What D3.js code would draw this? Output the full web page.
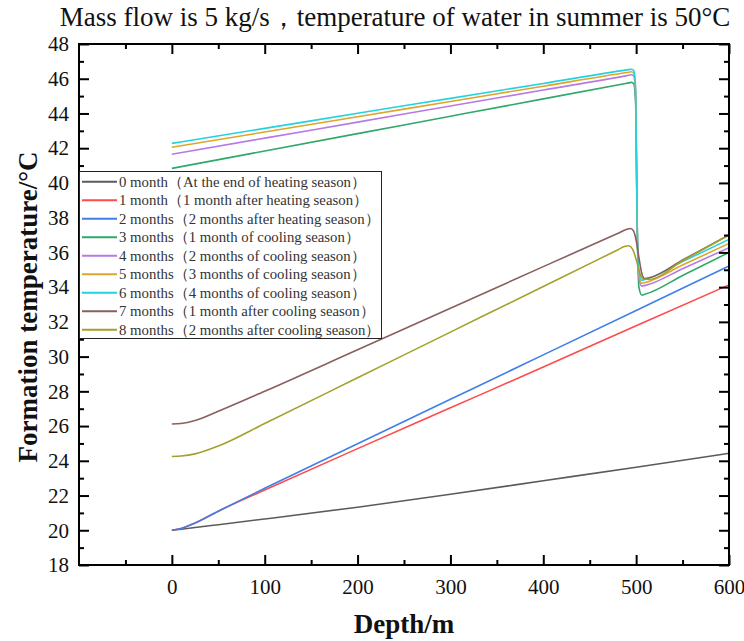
<!DOCTYPE html>
<html><head><meta charset="utf-8">
<script src="https://cdn.jsdelivr.net/npm/d3@7"></script>
<style>body{margin:0;background:#fff} svg{display:block}</style>
</head><body>
<svg id="c" width="744" height="641"></svg>
<script>
const titleText = "Mass flow is 5 kg/s，temperature of water in summer is 50°C";
const xLabel = "Depth/m";
const yLabel = "Formation temperature/°C";
const xTickValues = [-50, 0, 50, 100, 150, 200, 250, 300, 350, 400, 450, 500, 550, 600];
const xTickLabels = [0, 100, 200, 300, 400, 500, 600];
const yTickValues = d3.range(18, 49, 1);
const yTickLabels = [18, 20, 22, 24, 26, 28, 30, 32, 34, 36, 38, 40, 42, 44, 46, 48];

const seriesNames = [
  "0 month（At the end of heating season）",
  "1 month（1 month after heating season）",
  "2 months（2 months after heating season）",
  "3 months（1 month of cooling season）",
  "4 months（2 months of cooling season）",
  "5 months（3 months of cooling season）",
  "6 months（4 months of cooling season）",
  "7 months（1 month after cooling season）",
  "8 months（2 months after cooling season）"
];
const colors = ["#5b5b5b", "#ff4b4b", "#3f80e8", "#2fa86a", "#b67ae6", "#dca628", "#22d3de", "#8a5e5e", "#a3a12a"];

const depthHeating = [0, 10, 25, 50, 100, 200, 300, 400, 500, 600];
const month0 = [20.0, 20.06, 20.16, 20.32, 20.65, 21.33, 22.07, 22.85, 23.63, 24.43];
const month1 = [20.0, 20.1, 20.42, 21.1, 22.32, 24.7, 27.05, 29.4, 31.78, 34.13];
const month2 = [20.0, 20.1, 20.42, 21.1, 22.42, 24.98, 27.54, 30.1, 32.66, 35.22];

const depthCooling = [0, 100, 200, 300, 400, 490, 495, 497.5, 499.5, 501, 503, 506, 510, 550, 600];
const month3 = [40.84, 41.84, 42.84, 43.84, 44.84, 45.74, 45.79, 45.7, 44.5, 38.0, 34.0, 33.55, 33.6, 34.67, 36.0];
const month4 = [41.65, 42.58, 43.5, 44.43, 45.35, 46.18, 46.23, 46.15, 45.0, 38.0, 34.5, 34.06, 34.1, 35.06, 36.27];
const month5 = [42.05, 42.93, 43.81, 44.69, 45.57, 46.36, 46.4, 46.32, 45.2, 38.0, 34.7, 34.22, 34.27, 35.27, 36.52];
const month6 = [42.28, 43.14, 44.01, 44.87, 45.73, 46.51, 46.55, 46.47, 45.3, 38.0, 34.9, 34.4, 34.45, 35.47, 36.75];

const depthMonth7 = [0, 10, 25, 50, 100, 200, 300, 400, 480, 490, 494, 497, 500, 503, 506, 509, 515, 550, 600];
const month7 = [26.12, 26.15, 26.32, 26.85, 28.0, 30.39, 32.78, 35.18, 37.09, 37.33, 37.38, 37.25, 36.7, 35.7, 34.8, 34.5, 34.55, 35.56, 37.0];
const depthMonth8 = [0, 10, 25, 50, 100, 200, 300, 400, 480, 488, 492, 496, 500, 504, 508, 514, 550, 600];
const month8 = [24.25, 24.28, 24.4, 24.85, 26.15, 28.78, 31.41, 34.04, 36.14, 36.35, 36.38, 36.2, 35.6, 34.8, 34.45, 34.45, 35.52, 37.0];

const series = [
  [depthHeating, month0], [depthHeating, month1], [depthHeating, month2],
  [depthCooling, month3], [depthCooling, month4], [depthCooling, month5], [depthCooling, month6],
  [depthMonth7, month7], [depthMonth8, month8]
];

const svg = d3.select("#c");
const L = 79, R = 729, T = 44, B = 565;
const x = d3.scaleLinear().domain([-100, 600]).range([L, R]);
const y = d3.scaleLinear().domain([18, 48]).range([B, T]);
const serif = "'Liberation Serif','Times New Roman',serif";

const isMajorX = d => d % 100 === 0;
const isMajorY = d => d % 2 === 0;

function styleAxis(g, majorFn, horiz, sign) {
  g.select(".domain").remove();
  g.selectAll(".tick line")
    .attr("stroke", "#000").attr("stroke-width", 2)
    .each(function(d) {
      const len = majorFn(d) ? 10 : 5;
      d3.select(this).attr(horiz ? "y2" : "x2", sign * len);
    });
  g.selectAll("text").attr("font-family", serif).attr("font-size", 21).attr("fill", "#111");
}

// lines
const line = d3.line().curve(d3.curveMonotoneX);
series.forEach((s, i) => {
  const pts = s[0].map((d, j) => [x(d), y(s[1][j])]);
  svg.append("path").attr("d", line(pts)).attr("fill", "none")
    .attr("stroke", colors[i]).attr("stroke-width", 1.6);
});

// axes
const gb = svg.append("g").attr("transform", `translate(0,${B})`)
  .call(d3.axisBottom(x).tickValues(xTickValues).tickSizeInner(-10).tickSizeOuter(0).tickPadding(14)
    .tickFormat(d => xTickLabels.includes(d) ? d : ""));
styleAxis(gb, isMajorX, true, -1);
const gt = svg.append("g").attr("transform", `translate(0,${T})`)
  .call(d3.axisTop(x).tickValues(xTickValues).tickSizeInner(-10).tickSizeOuter(0).tickFormat(""));
styleAxis(gt, isMajorX, true, 1);
const gl = svg.append("g").attr("transform", `translate(${L},0)`)
  .call(d3.axisLeft(y).tickValues(yTickValues).tickSizeInner(-10).tickSizeOuter(0).tickPadding(10)
    .tickFormat(d => yTickLabels.includes(d) ? d : ""));
styleAxis(gl, isMajorY, false, 1);
const gr = svg.append("g").attr("transform", `translate(${R},0)`)
  .call(d3.axisRight(y).tickValues(yTickValues).tickSizeInner(-10).tickSizeOuter(0).tickFormat(""));
styleAxis(gr, isMajorY, false, -1);

svg.append("rect").attr("x", L).attr("y", T).attr("width", R - L).attr("height", B - T)
  .attr("fill", "none").attr("stroke", "#000").attr("stroke-width", 2);

// legend
const lg = svg.append("g");
lg.append("rect").attr("x", 79.5).attr("y", 171.5).attr("width", 302).attr("height", 167)
  .attr("fill", "#fff").attr("stroke", "#222").attr("stroke-width", 1);
seriesNames.forEach((n, i) => {
  const cy = 181.7 + i * 18.5;
  lg.append("line").attr("x1", 82).attr("x2", 117).attr("y1", cy).attr("y2", cy)
    .attr("stroke", colors[i]).attr("stroke-width", 2);
  lg.append("text").attr("x", 119).attr("y", cy).attr("dy", "0.35em")
    .attr("font-family", serif).attr("font-size", 14.8).attr("fill", "#333").text(n);
});

// titles
svg.append("text").attr("x", 395).attr("y", 26).attr("text-anchor", "middle")
  .attr("font-family", serif).attr("font-size", 27).attr("fill", "#111").text(titleText);
svg.append("text").attr("x", 404).attr("y", 633).attr("text-anchor", "middle")
  .attr("font-family", serif).attr("font-size", 27).attr("font-weight", "bold").attr("fill", "#111").text(xLabel);
svg.append("text").attr("transform", "translate(37,307) rotate(-90)").attr("text-anchor", "middle")
  .attr("font-family", serif).attr("font-size", 27).attr("font-weight", "bold").attr("fill", "#111").text(yLabel);
</script>
</body></html>
